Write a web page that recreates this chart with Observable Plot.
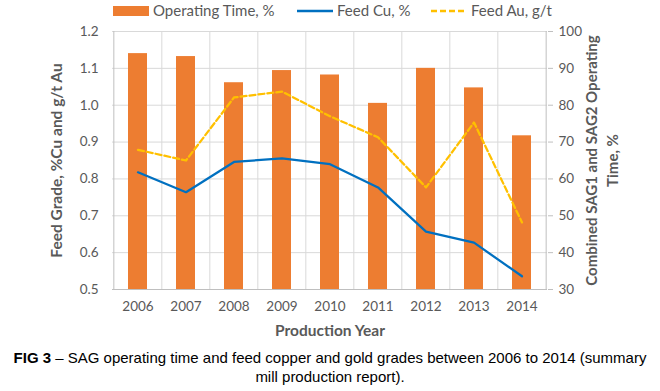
<!DOCTYPE html>
<html><head><meta charset="utf-8">
<script src="https://cdn.jsdelivr.net/npm/d3@7"></script>
<script src="https://cdn.jsdelivr.net/npm/@observablehq/plot@0.6"></script>
<style>
body{margin:0;background:#fff;}
#wrap{position:relative;width:660px;height:391px;font-family:Lato,sans-serif;overflow:hidden;}
#chart{position:absolute;left:0;top:0;}
.leg{position:absolute;top:1px;font-size:15px;color:#595959;white-space:nowrap;line-height:18px;}
.leg svg{vertical-align:middle;margin-right:4px;position:relative;top:-1px;}
#cap{position:absolute;top:348px;left:0;width:660px;text-align:center;font-family:"Liberation Sans",Arial,sans-serif;font-size:15px;line-height:19px;color:#000;}
</style></head><body>
<div id="wrap">
<div id="chart"></div>
<div class="leg" style="left:113px"><svg width="36" height="10"><rect x="0" y="0" width="36" height="10" fill="#ED7D31"/></svg>Operating Time, %</div>
<div class="leg" style="left:297px"><svg width="36" height="10"><line x1="0" y1="5" x2="36" y2="5" stroke="#0070C0" stroke-width="2.5"/></svg>Feed Cu, %</div>
<div class="leg" style="left:431px"><svg width="36" height="10"><line x1="0" y1="5" x2="36" y2="5" stroke="#FFC000" stroke-width="2.5" stroke-dasharray="6,3"/></svg>Feed Au, g/t</div>
<div id="cap"><b>FIG 3</b> – SAG operating time and feed copper and gold grades between 2006 to 2014 (summary<br>mill production report).</div>
</div>
<script>
const years = ["2006","2007","2008","2009","2010","2011","2012","2013","2014"];
const operatingTime = [94.0, 93.2, 86.1, 89.4, 88.2, 80.5, 90.0, 84.7, 71.7];
const feedCu = [0.818, 0.764, 0.846, 0.856, 0.840, 0.777, 0.657, 0.627, 0.536];
const feedAu = [0.879, 0.850, 1.021, 1.037, 0.970, 0.913, 0.777, 0.953, 0.682];
const leftTicks = [0.5, 0.6, 0.7, 0.8, 0.9, 1.0, 1.1, 1.2];
const rightTicks = [30, 40, 50, 60, 70, 80, 90, 100];

const toLeft = v => 0.5 + (v - 30) * 0.01;
const data = years.map((y, i) => ({year: y, op: operatingTime[i], cu: feedCu[i], au: feedAu[i]}));

const W = 660, H = 345, mL = 112, mR = 113, mT = 31, mB = 56;
const step = (W - mL - mR) / years.length;

const chart = Plot.plot({
  width: W, height: H,
  marginLeft: mL, marginRight: mR, marginTop: mT, marginBottom: mB,
  style: {fontFamily: "Lato, sans-serif", fontSize: "13.5px", color: "#595959", background: "#fff"},
  x: {domain: years, paddingInner: 0.6, paddingOuter: 0.3, axis: null},
  y: {domain: [0.5, 1.2], axis: null},
  marks: [
    Plot.gridY(leftTicks, {stroke: "#d9d9d9", strokeOpacity: 1, strokeWidth: 1}),
    Plot.ruleX(years.slice(1), {dx: -step / 2, stroke: "#d9d9d9", strokeWidth: 1}),
    Plot.barY(data, {x: "year", y1: 0.5, y2: d => toLeft(d.op), fill: "#ED7D31"}),
    Plot.line(data, {x: "year", y: "cu", stroke: "#0070C0", strokeWidth: 2.25}),
    Plot.line(data, {x: "year", y: "au", stroke: "#FFC000", strokeWidth: 2.25, strokeDasharray: "6,3"}),
    Plot.ruleY([0.5], {stroke: "#bfbfbf", strokeWidth: 1}),
    Plot.ruleX([years[0]], {dx: -step / 2, stroke: "#bfbfbf", strokeWidth: 1}),
    Plot.ruleX([years[years.length - 1]], {dx: step / 2, stroke: "#bfbfbf", strokeWidth: 1}),
    Plot.axisY(leftTicks, {anchor: "left", tickSize: 0, tickPadding: 14, tickFormat: d3.format(".1f"), label: null, fill: "#595959"}),
    Plot.axisY(rightTicks.map(toLeft), {anchor: "right", tickSize: 5, tickPadding: 6, stroke: "#bfbfbf", tickFormat: d => String(Math.round((d - 0.5) * 100 + 30)), label: null, fill: "#595959"}),
    Plot.axisX(years, {anchor: "bottom", tickSize: 0, tickPadding: 12, label: null, fill: "#595959"}),
    Plot.text(["Feed Grade, %Cu and g/t Au"], {frameAnchor: "left", textAnchor: "middle", dx: -55, rotate: -90, fontWeight: "bold", fontSize: 15.5, fill: "#595959"}),
    Plot.text(["Combined SAG1 and SAG2 Operating"], {frameAnchor: "right", textAnchor: "middle", dx: 45, rotate: -90, fontWeight: "bold", fontSize: 15, fill: "#595959"}),
    Plot.text(["Time, %"], {frameAnchor: "right", textAnchor: "middle", dx: 66, rotate: -90, fontWeight: "bold", fontSize: 15, fill: "#595959"}),
    Plot.text(["Production Year"], {frameAnchor: "bottom", dy: 46, fontWeight: "bold", fontSize: 15.5, fill: "#595959"})
  ]
});
document.getElementById("chart").appendChild(chart);
</script>
</body></html>
